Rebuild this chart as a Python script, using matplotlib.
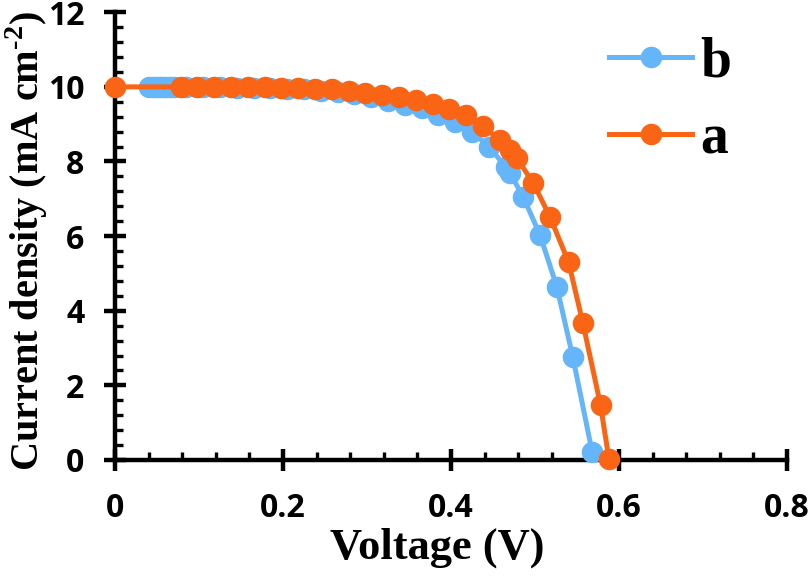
import matplotlib
matplotlib.use('Agg')
import matplotlib.pyplot as plt
from matplotlib.ticker import MultipleLocator

plt.rcParams['mathtext.fontset'] = 'custom'
plt.rcParams['mathtext.rm'] = 'Liberation Serif:bold'
plt.rcParams['mathtext.bf'] = 'Liberation Serif:bold'

# series b (blue)
v_b = [0.040, 0.045, 0.050, 0.055, 0.060, 0.065, 0.070,
       0.085, 0.105, 0.125, 0.145, 0.165, 0.185, 0.205, 0.225, 0.245,
       0.265, 0.285, 0.305, 0.325, 0.345, 0.365, 0.385, 0.405, 0.425,
       0.445, 0.465, 0.470, 0.486, 0.506, 0.526, 0.545, 0.568]
j_b = [10.0, 10.0, 10.0, 10.0, 10.0, 10.0, 10.0,
       10.0, 9.99, 9.99, 9.98, 9.97, 9.96, 9.95, 9.93, 9.90,
       9.86, 9.80, 9.72, 9.62, 9.52, 9.43, 9.24, 9.05, 8.80,
       8.40, 7.86, 7.70, 7.05, 6.03, 4.64, 2.76, 0.22]

# series a (orange)
v_a = [0.0, 0.078, 0.098, 0.118, 0.138, 0.158, 0.178, 0.198, 0.218, 0.238,
       0.258, 0.278, 0.298, 0.318, 0.338, 0.358, 0.378, 0.398, 0.418,
       0.438, 0.458, 0.470, 0.478, 0.498, 0.518, 0.540, 0.557, 0.578, 0.588]
j_a = [10.0, 10.0, 10.0, 10.0, 10.0, 9.99, 9.99, 9.98, 9.97, 9.95,
       9.93, 9.89, 9.84, 9.79, 9.74, 9.65, 9.55, 9.42, 9.24,
       8.95, 8.57, 8.30, 8.10, 7.42, 6.51, 5.30, 3.67, 1.47, 0.03]

x_ticks = [0, 0.2, 0.4, 0.6, 0.8]
x_labels = ['0', '0.2', '0.4', '0.6', '0.8']

c_b = '#64B5F9'
c_a = '#FA6415'

fig = plt.figure(figsize=(8.1, 5.83), dpi=100)
ax = fig.add_axes([0.142, 0.211, 0.8296, 0.768])

ax.plot(v_b, j_b, '-o', color=c_b, lw=3.6, ms=15.5, mew=0, label='b', zorder=3)
ax.plot(v_a, j_a, '-o', color=c_a, lw=3.6, ms=15.5, mew=0, label='a', zorder=4)

ax.set_xlim(0, 0.8)
ax.set_ylim(0, 12)
ax.set_xticks(x_ticks)
ax.set_xticklabels(x_labels)
ax.xaxis.set_minor_locator(MultipleLocator(0.04))
ax.yaxis.set_major_locator(MultipleLocator(2))
ax.yaxis.set_minor_locator(MultipleLocator(0.4))

for s in ['top', 'right']:
    ax.spines[s].set_visible(False)
for s in ['left', 'bottom']:
    ax.spines[s].set_linewidth(3.2)
    ax.spines[s].set_color('black')

ax.tick_params(which='major', direction='inout', length=16, width=3.2)
ax.tick_params(axis='x', which='major', pad=15)
ax.tick_params(axis='y', which='major', pad=14)
ax.tick_params(which='minor', direction='in', length=6, width=2.4)
for lab in ax.get_xticklabels() + ax.get_yticklabels():
    lab.set_fontfamily('Open Sans')
    lab.set_fontweight('bold')
    lab.set_fontsize(23)

ax.set_xlabel('Voltage (V)', fontfamily='Liberation Serif', fontweight='bold',
              fontsize=32)
ax.xaxis.set_label_coords(0.479, -0.15)
ax.set_ylabel('Current density (mA cm$^{\u20102}$)', fontfamily='Liberation Serif',
              fontweight='bold', fontsize=29)
ax.yaxis.set_label_coords(-0.097, 0.49)

leg = ax.legend(loc='upper right', bbox_to_anchor=(0.992, 1.058), frameon=False,
                prop={'family': 'Liberation Serif', 'weight': 'bold', 'size': 40},
                handlelength=1.5, handletextpad=0.15, labelspacing=0.45)

for ln in ax.lines:
    ln.set_clip_on(False)

fig.savefig('out.png', dpi=100)
